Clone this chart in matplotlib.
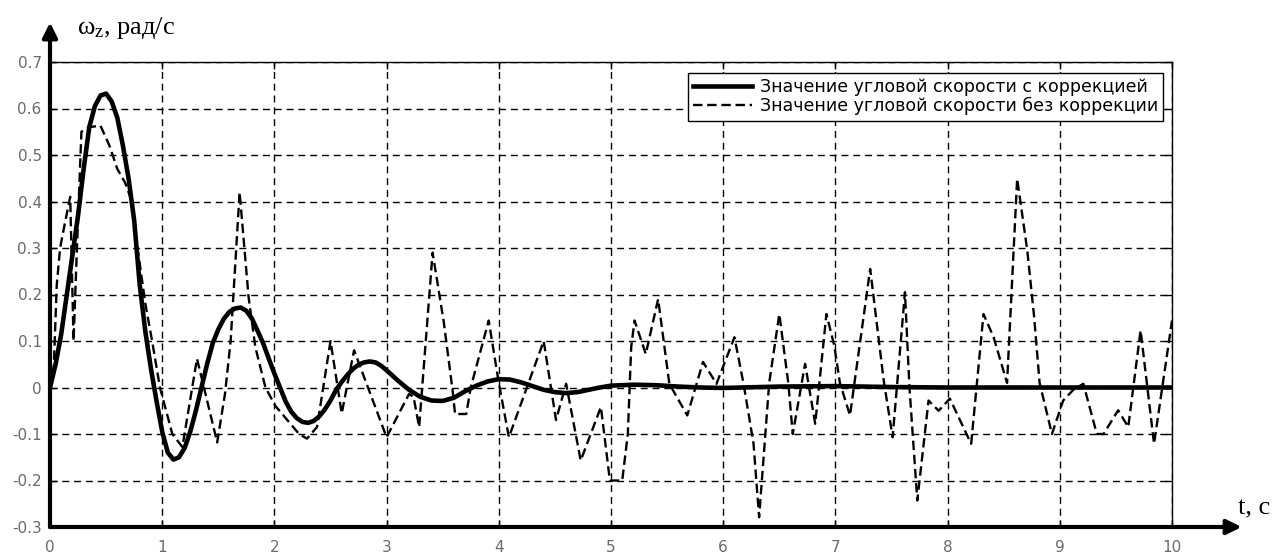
import matplotlib
matplotlib.use("Agg")
import matplotlib.pyplot as plt

# ---- data ----
t_corr = [0.00, 0.05, 0.10, 0.15, 0.20, 0.25, 0.30, 0.35, 0.40, 0.45, 0.50, 0.55,
          0.60, 0.65, 0.70, 0.75, 0.80, 0.85, 0.90, 0.95, 1.00, 1.05, 1.10, 1.15,
          1.20, 1.25, 1.30, 1.35, 1.40, 1.45, 1.50, 1.55, 1.60, 1.65, 1.70, 1.75,
          1.80, 1.85, 1.90, 1.95, 2.00, 2.05, 2.10, 2.15, 2.20, 2.25, 2.30, 2.35,
          2.40, 2.45, 2.50, 2.55, 2.60, 2.65, 2.70, 2.75, 2.80, 2.85, 2.90, 2.95,
          3.00, 3.10, 3.20, 3.30, 3.40, 3.50, 3.60, 3.70, 3.80, 3.90, 4.00, 4.10,
          4.20, 4.30, 4.40, 4.50, 4.60, 4.70, 4.80, 4.90, 5.00, 5.20, 5.40, 5.60,
          5.80, 6.00, 6.50, 7.00, 7.50, 8.00, 10.0]
w_corr = [0.000, 0.050, 0.115, 0.200, 0.285, 0.370, 0.470, 0.560, 0.605, 0.628, 0.632, 0.615,
          0.580, 0.520, 0.450, 0.360, 0.220, 0.120, 0.040, -0.030, -0.095, -0.140, -0.155, -0.150,
          -0.130, -0.095, -0.050, 0.000, 0.050, 0.095, 0.125, 0.148, 0.163, 0.170, 0.172, 0.165,
          0.148, 0.122, 0.095, 0.062, 0.030, 0.000, -0.030, -0.052, -0.066, -0.074, -0.076, -0.072,
          -0.062, -0.047, -0.028, -0.005, 0.012, 0.027, 0.040, 0.049, 0.054, 0.056, 0.054, 0.047,
          0.037, 0.015, -0.005, -0.020, -0.028, -0.029, -0.022, -0.008, 0.004, 0.013, 0.018, 0.017,
          0.011, 0.003, -0.005, -0.010, -0.012, -0.010, -0.005, 0.000, 0.004, 0.006, 0.005, 0.002,
          0.000, -0.001, 0.002, 0.003, 0.001, 0.000, 0.000]

t_raw = [0.00, 0.03, 0.06, 0.09, 0.13, 0.18, 0.21, 0.24, 0.28, 0.35, 0.45, 0.53,
         0.60, 0.67, 0.73, 0.78, 0.85, 0.91, 0.98, 1.09, 1.18, 1.31, 1.49, 1.56,
         1.61, 1.69, 1.77, 1.83, 1.92, 2.01, 2.22, 2.29, 2.38, 2.50, 2.60, 2.71,
         3.00, 3.20, 3.24, 3.29, 3.41, 3.51, 3.59, 3.61, 3.71, 3.75, 3.91, 4.00,
         4.09, 4.40, 4.51, 4.60, 4.73, 4.91, 4.99, 5.10, 5.15, 5.18, 5.21, 5.31,
         5.42, 5.52, 5.68, 5.82, 5.94, 6.10, 6.18, 6.27, 6.32, 6.41, 6.50, 6.58,
         6.62, 6.73, 6.82, 6.92, 6.99, 7.04, 7.13, 7.31, 7.43, 7.51, 7.62, 7.66,
         7.73, 7.83, 7.92, 8.02, 8.21, 8.32, 8.41, 8.53, 8.62, 8.71, 8.77, 8.82,
         8.93, 9.03, 9.12, 9.21, 9.33, 9.39, 9.52, 9.61, 9.72, 9.84, 10.0]
w_raw = [0.000, 0.020, 0.220, 0.300, 0.350, 0.410, 0.100, 0.300, 0.550, 0.560, 0.563, 0.520,
         0.470, 0.440, 0.400, 0.300, 0.180, 0.100, 0.000, -0.100, -0.128, 0.062, -0.118, -0.013,
         0.100, 0.420, 0.194, 0.087, 0.000, -0.040, -0.100, -0.110, -0.085, 0.100, -0.056, 0.080,
         -0.107, -0.014, -0.020, -0.085, 0.290, 0.140, -0.010, -0.057, -0.057, 0.000, 0.144, 0.010,
         -0.107, 0.100, -0.070, 0.008, -0.157, -0.042, -0.200, -0.200, -0.100, 0.087, 0.144, 0.072,
         0.190, 0.008, -0.060, 0.055, 0.008, 0.108, 0.010, -0.120, -0.279, 0.010, 0.158, 0.010,
         -0.100, 0.051, -0.078, 0.158, 0.090, 0.010, -0.060, 0.255, 0.016, -0.107, 0.205, 0.000,
         -0.243, -0.028, -0.050, -0.024, -0.121, 0.158, 0.108, 0.010, 0.449, 0.295, 0.155, 0.010,
         -0.100, -0.028, -0.005, 0.008, -0.100, -0.100, -0.049, -0.085, 0.123, -0.121, 0.144]

x_ticks = [0, 1, 2, 3, 4, 5, 6, 7, 8, 9, 10]
y_ticks = [-0.3, -0.2, -0.1, 0, 0.1, 0.2, 0.3, 0.4, 0.5, 0.6, 0.7]
y_tick_labels = ["-0.3", "-0.2", "-0.1", "0", "0.1", "0.2", "0.3", "0.4", "0.5", "0.6", "0.7"]

label_corr = "Значение угловой скорости с коррекцией"
label_raw = "Значение угловой скорости без коррекции"

# ---- figure ----
plt.rcParams['font.family'] = ['DejaVu Sans']
plt.rcParams['mathtext.fontset'] = 'custom'
plt.rcParams['mathtext.rm'] = 'Liberation Serif'
plt.rcParams['mathtext.it'] = 'Liberation Serif'

fig = plt.figure(figsize=(12.73, 5.54), dpi=100)
L, R, B, T = 50 / 1273, 1172 / 1273, 27 / 554, 492 / 554
ax = fig.add_axes([L, B, R - L, T - B])

ax.plot(t_corr, w_corr, color='black', lw=3.3, solid_joinstyle='round',
        label=label_corr, zorder=4)
ax.plot(t_raw, w_raw, color='black', lw=1.7, linestyle=(0, (4, 2)),
        label=label_raw, zorder=3)

ax.set_xlim(0, 10)
ax.set_ylim(-0.3, 0.7)
ax.set_xticks(x_ticks)
ax.set_yticks(y_ticks)
ax.set_yticklabels(y_tick_labels)
ax.grid(True, color='black', lw=1.0, linestyle=(0, (5, 3.5)))
ax.tick_params(direction='in', length=5, width=1, top=True, right=True,
               colors='black', labelcolor='#6a6a6a', labelsize=11)
ax.tick_params(axis='x', pad=9)
ax.tick_params(axis='y', pad=6)

for s in ['left', 'bottom']:
    ax.spines[s].set_visible(False)
for s in ['top', 'right']:
    ax.spines[s].set_linewidth(1.0)

# axis arrows
ax.annotate('', xy=(0, 1.085), xytext=(0, 0), xycoords='axes fraction',
            textcoords='axes fraction', annotation_clip=False,
            arrowprops=dict(arrowstyle='-|>', lw=3, color='black',
                            mutation_scale=22, shrinkA=0, shrinkB=0))
ax.annotate('', xy=(1.062, 0), xytext=(0, 0), xycoords='axes fraction',
            textcoords='axes fraction', annotation_clip=False,
            arrowprops=dict(arrowstyle='-|>', lw=3, color='black',
                            mutation_scale=22, shrinkA=0, shrinkB=0))

fig.text(77 / 1273, 1 - 34 / 554, r'$\mathrm{\omega_z}$, рад/с', fontsize=19,
         family='Liberation Serif', ha='left', va='baseline')
fig.text(1238 / 1273, 1 - 514 / 554, 't, с', fontsize=19,
         family='Liberation Serif', ha='left', va='baseline')

leg = ax.legend(loc='upper right', bbox_to_anchor=(0.992, 0.976), fontsize=12.5,
                frameon=True, fancybox=False, framealpha=1, edgecolor='black',
                handlelength=3.4, handletextpad=0.45, borderpad=0.3,
                labelspacing=0.05, borderaxespad=0)
leg.get_frame().set_linewidth(1.0)
leg.set_zorder(10)

fig.savefig('out.png', dpi=100)
